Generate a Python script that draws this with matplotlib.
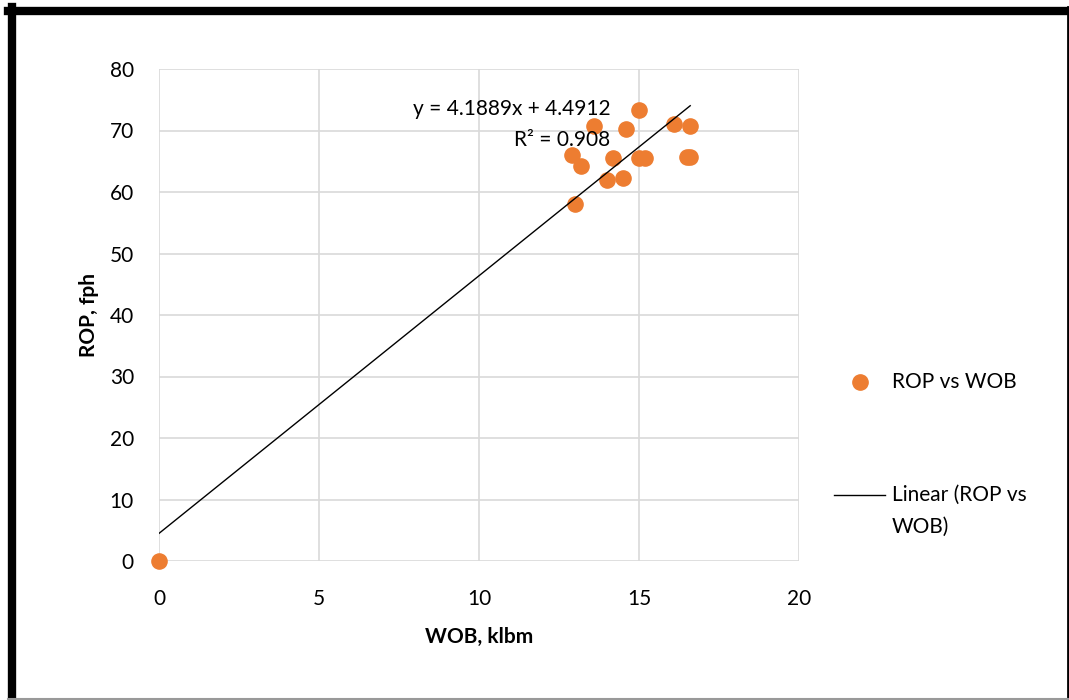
import matplotlib.pyplot as plt
import numpy as np
from matplotlib.lines import Line2D

plt.rcParams['font.family'] = ['Lato', 'DejaVu Sans']

wob = [0, 15.0, 13.6, 14.6, 16.1, 16.6, 12.9, 13.2, 14.2, 15.0, 15.2, 16.5, 16.6, 14.0, 14.5, 13.0]
rop = [0, 73.3, 70.7, 70.2, 71.0, 70.8, 66.0, 64.2, 65.5, 65.5, 65.6, 65.7, 65.7, 62.0, 62.3, 58.1]
slope = 4.1889
intercept = 4.4912
r2 = 0.908
orange = '#ED7D31'

fig = plt.figure(figsize=(10.69, 7), dpi=100)
ax = fig.add_axes([159/1069, 1 - 561/700, 640/1069, 492/700])

ax.scatter(wob, rop, s=120, color=orange, zorder=3, clip_on=False)
xs = np.array([0, max(wob)])
ax.plot(xs, slope*xs + intercept, color='black', lw=1, zorder=4)

ax.set_xlim(0, 20)
ax.set_ylim(0, 80)
ax.set_xticks(np.arange(0, 21, 5))
ax.set_yticks(np.arange(0, 81, 10))
ax.grid(True, color='#d9d9d9', lw=1.2)
ax.set_axisbelow(True)
for s in ax.spines.values():
    s.set_visible(False)
ax.tick_params(length=0, labelsize=15)
ax.tick_params(axis='x', pad=20)
ax.tick_params(axis='y', pad=18)
ax.set_xlabel('WOB, klbm', fontsize=15, fontweight='bold', labelpad=13)
ax.set_ylabel('ROP, fph', fontsize=15, fontweight='bold', labelpad=8)

ax.text(14.1, 71.0, 'y = %.4fx + %.4f\nR² = %.3f' % (slope, intercept, r2), ha='right', va='center',
        multialignment='right', fontsize=15, linespacing=1.65, zorder=5)

# legend, Excel style
fig.add_artist(Line2D([860/1069], [1 - 382/700], marker='o', color=orange, markersize=11,
                      transform=fig.transFigure))
fig.text(892/1069, 1 - 382/700, 'ROP vs WOB', fontsize=15, va='center')
fig.add_artist(Line2D([834/1069, 885/1069], [1 - 495/700, 1 - 495/700], color='black', lw=1,
                      transform=fig.transFigure))
fig.text(892/1069, 1 - 495/700, 'Linear (ROP vs', fontsize=15, va='center')
fig.text(892/1069, 1 - 527/700, 'WOB)', fontsize=15, va='center')

# outer border
fig.add_artist(Line2D([8/1069, 1069/1069], [1 - 11/700, 1 - 11/700], color='black', lw=6, transform=fig.transFigure))
fig.add_artist(Line2D([12/1069, 12/1069], [0, 1 - 7/700], color='black', lw=6, transform=fig.transFigure))
fig.add_artist(Line2D([1068/1069, 1068/1069], [0, 1 - 7/700], color='black', lw=2, transform=fig.transFigure))
fig.add_artist(Line2D([8/1069, 1069/1069], [1/700, 1/700], color='#999999', lw=1.5, transform=fig.transFigure))

plt.savefig('out.png', dpi=100)
